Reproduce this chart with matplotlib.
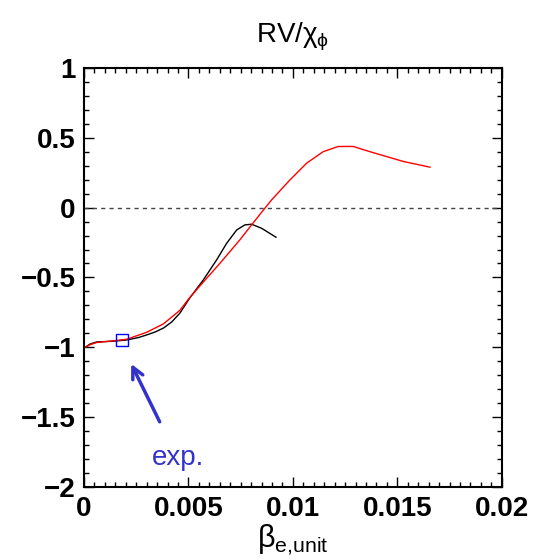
import matplotlib
matplotlib.use("Agg")
import matplotlib.pyplot as plt
from matplotlib.ticker import MultipleLocator

plt.rcParams["font.family"] = ["Liberation Sans", "DejaVu Sans"]
plt.rcParams["mathtext.fontset"] = "custom"
plt.rcParams["mathtext.rm"] = "Liberation Sans"
plt.rcParams["mathtext.it"] = "Liberation Sans"
plt.rcParams["mathtext.bf"] = "Liberation Sans:bold"

# black curve
beta_black = [0.00005, 0.00029, 0.00061, 0.0014, 0.00204, 0.0026, 0.003, 0.0034, 0.0038,
              0.0042, 0.00459, 0.00507, 0.00571, 0.00635, 0.00683, 0.00731, 0.0077,
              0.00802, 0.0085, 0.00919]
rv_black = [-1.0, -0.976, -0.961, -0.956, -0.947, -0.93, -0.911, -0.89, -0.862,
            -0.818, -0.755, -0.645, -0.518, -0.374, -0.255, -0.16, -0.124,
            -0.119, -0.148, -0.212]

# red curve
beta_red = [0.00005, 0.0003, 0.00061, 0.0014, 0.00204, 0.003, 0.0038, 0.00459, 0.005,
            0.00555, 0.00651, 0.00746, 0.00802, 0.00866, 0.00898, 0.00986, 0.01066,
            0.01145, 0.01217, 0.01289, 0.01368, 0.01448, 0.01528, 0.01656]
rv_red = [-1.0, -0.98, -0.965, -0.953, -0.942, -0.892, -0.832, -0.735, -0.655,
          -0.56, -0.398, -0.231, -0.124, -0.004, 0.055, 0.198, 0.318,
          0.40, 0.437, 0.437, 0.40, 0.365, 0.33, 0.289]

exp_beta = 0.0018
exp_rv = -0.95

xticks = [0, 0.005, 0.01, 0.015, 0.02]
xtick_labels = ["0", "0.005", "0.01", "0.015", "0.02"]
yticks = [-2, -1.5, -1, -0.5, 0, 0.5, 1]
ytick_labels = ["\u22122", "\u22121.5", "\u22121", "\u22120.5", "0", "0.5", "1"]

fig = plt.figure(figsize=(5.35, 5.6), dpi=100)
ax = fig.add_axes([0.157, 0.130, 0.781, 0.749])

ax.axhline(0, color="#444444", lw=1, ls=(0, (3, 3)))
ax.plot(beta_black, rv_black, color="black", lw=1)
ax.plot(beta_red, rv_red, color="red", lw=1)
ax.plot([exp_beta], [exp_rv], marker="s", ms=8.5, mfc="none", mec="blue", mew=1)

ax.annotate("", xy=(0.0022, -1.10), xytext=(0.00368, -1.55),
            arrowprops=dict(arrowstyle="->,head_length=0.8,head_width=0.4",
                            color="#3333cc", lw=2.5))
ax.text(0.0045, -1.79, "exp.", color="#3333cc", fontsize=20, ha="center", va="center")

ax.set_xlim(0, 0.02)
ax.set_ylim(-2, 1)
ax.set_xticks(xticks, xtick_labels)
ax.set_yticks(yticks, ytick_labels)
ax.xaxis.set_minor_locator(MultipleLocator(0.0005))
ax.yaxis.set_minor_locator(MultipleLocator(0.1))
ax.tick_params(which="both", direction="in", top=True, right=True, width=1)
ax.tick_params(which="major", length=7, labelsize=20, pad=6)
ax.tick_params(which="minor", length=3.5)
for lab in ax.get_xticklabels() + ax.get_yticklabels():
    lab.set_fontweight("bold")
for s in ax.spines.values():
    s.set_linewidth(1.5)

ax.set_title(r"RV/$\chi_\phi$", fontsize=20, pad=18)
ax.set_xlabel(r"$\beta_{\rm e{,}unit}$", fontsize=22, labelpad=1)

fig.savefig("out.png", dpi=100)
